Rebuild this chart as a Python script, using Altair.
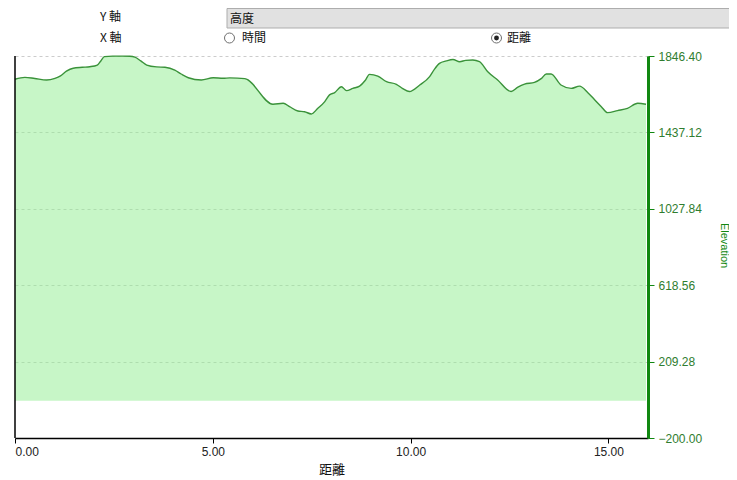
import altair as alt
import pandas as pd

dist = [0.0, 0.25, 0.5, 0.8, 1.01, 1.15, 1.30, 1.47, 1.70, 1.89, 2.08, 2.17, 2.26, 2.47, 2.73, 2.9,
        3.03, 3.18, 3.33, 3.58, 3.79, 4.04, 4.20, 4.38, 4.71, 5.01, 5.26, 5.43, 5.81, 6.52,
        6.78, 6.94, 7.15, 7.32, 7.49, 7.65, 7.83, 7.95, 8.08, 8.25, 8.38, 8.54, 8.71,
        8.85, 8.96, 9.17, 9.39, 9.64, 9.80, 9.97, 10.23, 10.48, 10.60, 10.73, 10.90, 11.07, 11.24, 11.39,
        11.57, 11.74, 11.95, 12.2, 12.54, 12.70, 12.88, 13.13, 13.30, 13.43, 13.55, 13.80, 14.06,
        14.27, 14.48, 14.65, 14.82, 14.98, 15.23, 15.48, 15.74, 15.95]
elev = [1722, 1732, 1726, 1718, 1727, 1740, 1765, 1781, 1786, 1789, 1798, 1820, 1843, 1846, 1846, 1845,
        1840, 1820, 1798, 1788, 1786, 1771, 1750, 1730, 1718, 1730, 1727, 1729, 1725, 1588,
        1593, 1575, 1552, 1548, 1536, 1565, 1602, 1638, 1650, 1682, 1661, 1673, 1685,
        1715, 1748, 1739, 1709, 1695, 1672, 1656, 1691, 1736, 1775, 1807, 1820, 1828, 1816, 1823,
        1825, 1816, 1762, 1718, 1656, 1678, 1696, 1705, 1725, 1750, 1750, 1691, 1673,
        1685, 1650, 1612, 1575, 1543, 1554, 1566, 1593, 1588]

x_ticks = [0, 5, 10, 15]
y_ticks = [-200, 209.28, 618.56, 1027.84, 1437.12, 1846.40]

x_title = "距離"
y_title = "Elevation"
ui_y_label = "Y 軸"
ui_x_label = "X 軸"
ui_dropdown = "高度"
ui_opt_time = "時間"
ui_opt_dist = "距離"

df = pd.DataFrame({"dist": dist, "elev": elev})

GREEN = "#118811"
CJK = "Noto Sans CJK TC"

x_enc = alt.X("dist:Q",
              scale=alt.Scale(domain=[0, 16], nice=False, zero=False),
              axis=alt.Axis(values=x_ticks, format=".2f", title=x_title, grid=False,
                            domainColor="black", domainWidth=1.5, tickColor="black",
                            tickSize=5, labelColor="#222", labelFontSize=12,
                            labelFont="Liberation Sans", titleFont=CJK, titleFontSize=13,
                            titleFontWeight="normal", titleColor="#111", titlePadding=6,
                            labelPadding=3, labelFlush=True))
y_enc = alt.Y("elev:Q",
              scale=alt.Scale(domain=[-200, 1846.4], nice=False, zero=False),
              axis=alt.Axis(orient="right", values=y_ticks, format=".2f", title=y_title,
                            grid=True, gridColor="#cccccc", gridDash=[3, 3],
                            domainColor=GREEN, domainWidth=3, tickColor=GREEN,
                            tickSize=6, labelColor="#2f7d2f", labelFontSize=12,
                            labelFont="Liberation Sans", labelPadding=4,
                            titleColor=GREEN, titleFontSize=11, titleFont="Liberation Sans",
                            titleFontWeight="normal", titleAngle=90, titleX=75, titleY=189,
                            titleAlign="center", titleBaseline="middle", labelFlush=False))

area = alt.Chart(df).mark_area(color="#90ee90", opacity=0.5, interpolate="monotone").encode(
    x=x_enc, y=y_enc, y2=alt.datum(0))
line = alt.Chart(df).mark_line(color="#3a923a", strokeWidth=1.4, interpolate="monotone").encode(
    x="dist:Q", y="elev:Q")

one = alt.Data(values=[{"a": 1}])
left_rule = alt.Chart(one).mark_rule(color="black", strokeWidth=1.5).encode(
    x=alt.value(0), y=alt.value(0), y2=alt.value(382))

def txt(t, x, y, size=12):
    return alt.Chart(one).mark_text(text=t, align="left", baseline="middle",
                                    font=CJK, fontSize=size, color="#111").encode(
        x=alt.value(x), y=alt.value(y))

dropdown = alt.Chart(one).mark_rect(fill="#e1e1e1", stroke="#adadad", strokeWidth=1).encode(
    x=alt.value(212), x2=alt.value(730), y=alt.value(-47.5), y2=alt.value(-28))
radio1 = alt.Chart(one).mark_point(shape="circle", size=100, filled=False,
                                   color="#333", strokeWidth=1).encode(
    x=alt.value(214.5), y=alt.value(-18))
radio2 = alt.Chart(one).mark_point(shape="circle", size=100, filled=False,
                                   color="#333", strokeWidth=1).encode(
    x=alt.value(481.5), y=alt.value(-18))
radio2dot = alt.Chart(one).mark_point(shape="circle", size=24, filled=True,
                                      color="#222", opacity=1).encode(
    x=alt.value(481.5), y=alt.value(-18))

chart = alt.layer(
    area, line, left_rule,
    dropdown,
    txt(ui_y_label, 85, -39), txt(ui_dropdown, 215, -37.5),
    txt(ui_x_label, 85, -18), radio1, txt(ui_opt_time, 227, -18),
    radio2, radio2dot, txt(ui_opt_dist, 492, -18),
).properties(
    width=633, height=382,
    autosize=alt.AutoSizeParams(type="none"),
    padding={"left": 7, "top": 48, "right": 81, "bottom": 42},
).configure_view(stroke=None)

chart.save("out.html", embed_options={"renderer": "svg", "actions": False})
